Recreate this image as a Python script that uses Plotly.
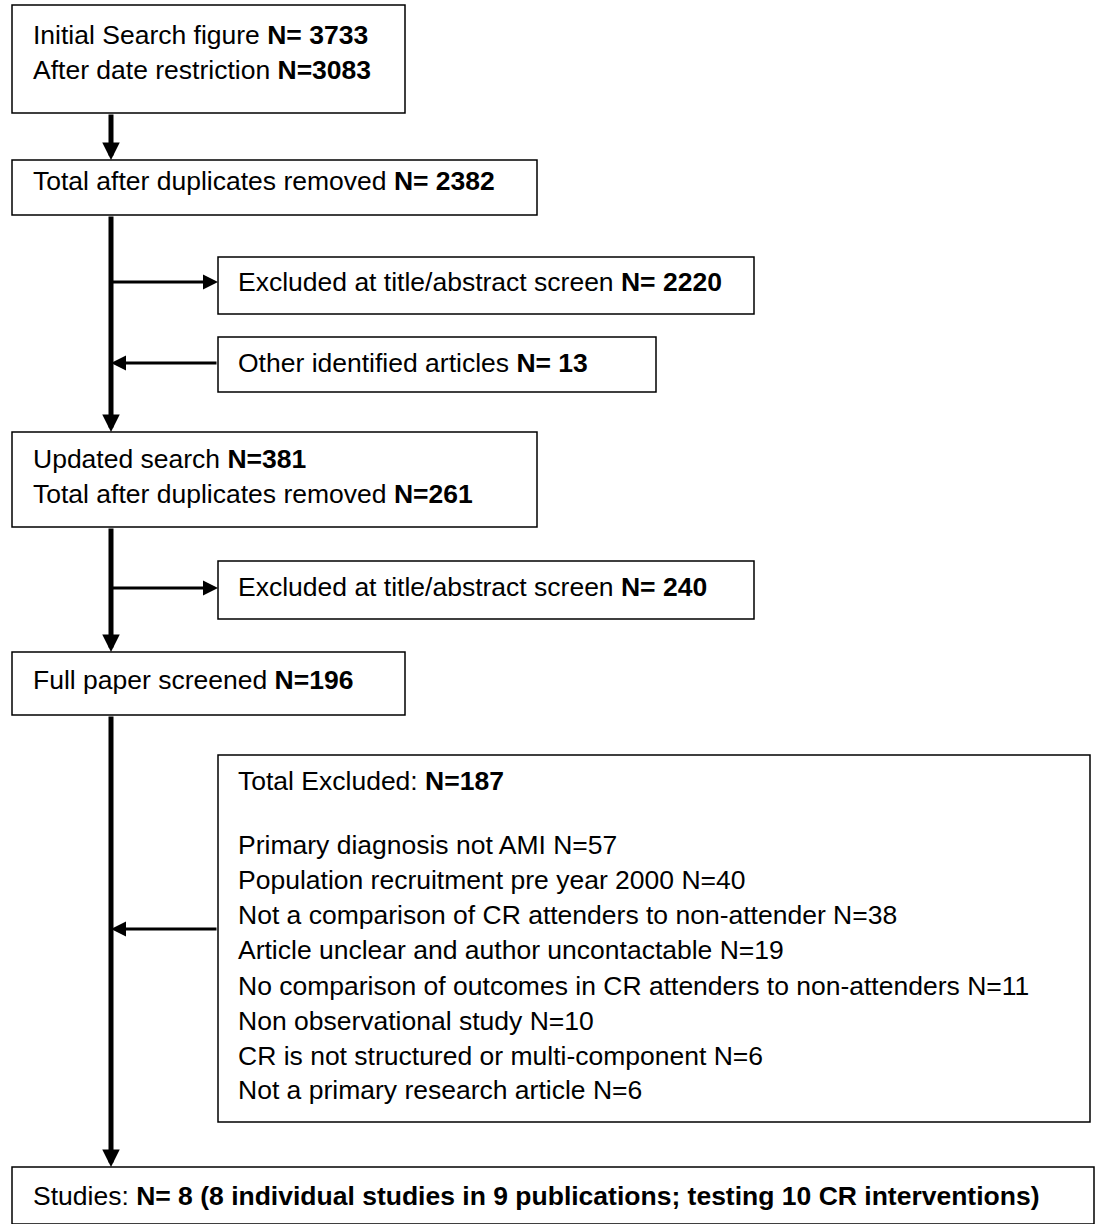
import plotly.graph_objects as go

# box extents in pixel space (x0, y0, x1, y1)
boxes = [
    (12, 5, 405, 113),
    (12, 160, 537, 215),
    (218, 257, 754, 314),
    (218, 337, 656, 392),
    (12, 432, 537, 527),
    (218, 561, 754, 619),
    (12, 652, 405, 715),
    (218, 755, 1090, 1122),
    (12, 1167, 1094, 1224),
]

# text lines: (x, y, text)
labels = [
    (31, 35, "Initial Search figure <b>N= 3733</b>"),
    (31, 70, "After date restriction <b>N=3083</b>"),
    (31, 181, "Total after duplicates removed <b>N= 2382</b>"),
    (236, 282, "Excluded at title/abstract screen <b>N= 2220</b>"),
    (236, 363, "Other identified articles <b>N= 13</b>"),
    (31, 459, "Updated search <b>N=381</b>"),
    (31, 494, "Total after duplicates removed <b>N=261</b>"),
    (236, 587, "Excluded at title/abstract screen <b>N= 240</b>"),
    (31, 680, "Full paper screened <b>N=196</b>"),
    (236, 781, "Total Excluded: <b>N=187</b>"),
    (236, 845, "Primary diagnosis not AMI N=57"),
    (236, 880, "Population recruitment pre year 2000 N=40"),
    (236, 915, "Not a comparison of CR attenders to non-attender N=38"),
    (236, 950, "Article unclear and author uncontactable N=19"),
    (236, 986, "No comparison of outcomes in CR attenders to non-attenders N=11"),
    (236, 1021, "Non observational study N=10"),
    (236, 1056, "CR is not structured or multi-component N=6"),
    (236, 1090, "Not a primary research article N=6"),
    (31, 1196, "Studies: <b>N= 8 (8 individual studies in 9 publications; testing 10 CR interventions)</b>"),
]

spine_x = 111
# vertical arrows down the spine: (y_start, y_end)
vertical = [(113, 160), (215, 432), (527, 652), (715, 1167)]
# side arrows: (y, x_from, x_to)
side = [(282, spine_x, 218), (363, 218, spine_x), (588, spine_x, 218), (929, 218, spine_x)]

fig = go.Figure()
fig.add_trace(go.Scatter(x=[0], y=[0], mode="markers", marker=dict(opacity=0), hoverinfo="skip"))

for x0, y0, x1, y1 in boxes:
    fig.add_shape(type="rect", x0=x0, y0=y0, x1=x1, y1=y1,
                  line=dict(color="black", width=1.5), fillcolor="white")

for x, y, t in labels:
    fig.add_annotation(x=x, y=y, text=t, showarrow=False, xanchor="left", yanchor="middle",
                       font=dict(family="Liberation Sans, Arial", size=26.5, color="black"))

for y0, y1 in vertical:
    fig.add_annotation(x=spine_x, y=y1, ax=spine_x, ay=y0, xref="x", yref="y", axref="x", ayref="y",
                       text="", showarrow=True, arrowhead=2, arrowsize=0.7, arrowwidth=5, arrowcolor="black")

for y, xf, xt in side:
    fig.add_annotation(x=xt, y=y, ax=xf, ay=y, xref="x", yref="y", axref="x", ayref="y",
                       text="", showarrow=True, arrowhead=2, arrowsize=1, arrowwidth=3, arrowcolor="black")

fig.update_layout(
    width=1095, height=1224, margin=dict(l=0, r=0, t=0, b=0),
    plot_bgcolor="white", paper_bgcolor="white", showlegend=False,
    xaxis=dict(range=[0, 1095], visible=False),
    yaxis=dict(range=[1224, 0], visible=False),
)

fig.write_html("out.html", config={"displayModeBar": False},
               post_script="document.body.style.margin='0';")
